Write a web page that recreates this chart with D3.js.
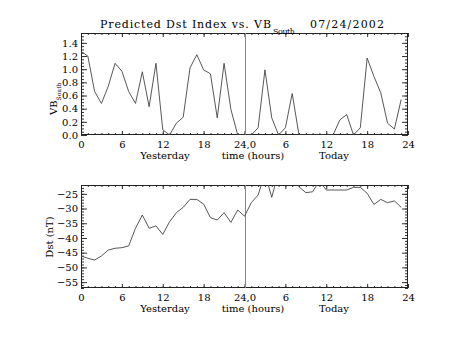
<!DOCTYPE html>
<html><head><meta charset="utf-8">
<script src="https://cdn.jsdelivr.net/npm/d3@7"></script>
<style>
html,body{margin:0;padding:0;background:#fff;}
svg{display:block;}
text{font-family:"DejaVu Serif",serif;fill:#000;}
</style></head>
<body>
<svg id="chart" width="453" height="340"></svg>
<script>
// ---- data (hourly, 0..47 : yesterday 0-23, today 24-47) ----
const hours = d3.range(48);
const vbSouth = [1.27,1.20,0.66,0.48,0.74,1.09,0.97,0.66,0.48,0.96,0.43,1.09,0.08,0.00,0.18,0.27,1.02,1.22,0.99,0.93,0.26,1.09,0.39,0.00,
                 0.00,0.00,0.11,0.99,0.26,0.00,0.11,0.63,0.00,0.00,0.00,0.00,0.00,0.00,0.23,0.31,0.00,0.11,1.17,0.89,0.64,0.18,0.09,0.54];
const dst = [-46.1,-46.9,-47.5,-46.1,-44.1,-43.5,-43.3,-42.7,-36.7,-32.2,-36.7,-35.9,-38.8,-34.5,-31.4,-29.6,-26.9,-26.9,-28.5,-33.1,-33.9,-31.4,-34.7,-30.5,
             -32.6,-28.0,-25.4,-18.0,-26.2,-17.5,-18.0,-19.0,-22.6,-24.6,-24.3,-20.6,-23.7,-23.7,-23.7,-23.7,-22.8,-22.8,-24.8,-28.6,-26.9,-28.0,-27.4,-29.6];
const xTickValues = [0,6,12,18,24,30,36,42,48];
const xTickLabels = ["0","6","12","18","24,0","6","12","18","24"];
const vbTicks = [0.0,0.2,0.4,0.6,0.8,1.0,1.2,1.4];
const dstTicks = [-55,-50,-45,-40,-35,-30,-25];
const title = "Predicted Dst Index vs. VB";
const titleSub = "South";
const dateText = "07/24/2002";

// ---- layout ----
const svg = d3.select("#chart");
const L = 81, R = 408;
const x = d3.scaleLinear().domain([0,48]).range([L,R]);

const panels = [
  {top:33, bottom:135, domain:[0,1.55], ticks:vbTicks, minorStep:0.05, fmt:d3.format(".1f"), data:vbSouth, id:"p1"},
  {top:185, bottom:288, domain:[-57,-22], ticks:dstTicks, minorStep:1, fmt:d3.format("d"), data:dst, id:"p2"}
];

panels.forEach(p => {
  const y = d3.scaleLinear().domain(p.domain).range([p.bottom, p.top]);
  const g = svg.append("g");
  svg.append("clipPath").attr("id","clip-"+p.id).append("rect")
    .attr("x",L).attr("y",p.top).attr("width",R-L).attr("height",p.bottom-p.top);

  const minorY = d3.range(Math.ceil(p.domain[0]/p.minorStep), Math.floor(p.domain[1]/p.minorStep)+1).map(k=>+(k*p.minorStep).toFixed(4));
  const minorX = d3.range(0,49);

  const style = sel => { sel.select(".domain").remove(); sel.selectAll("line").attr("stroke","#333").attr("stroke-width",1); sel.selectAll("text").remove(); };

  g.append("g").attr("transform",`translate(0,${p.bottom})`).call(d3.axisBottom(x).tickValues(minorX).tickSize(-2).tickSizeOuter(0)).call(style);
  g.append("g").attr("transform",`translate(0,${p.top})`).call(d3.axisTop(x).tickValues(minorX).tickSize(-2).tickSizeOuter(0)).call(style);
  g.append("g").attr("transform",`translate(0,${p.bottom})`).call(d3.axisBottom(x).tickValues(xTickValues).tickSize(-4).tickSizeOuter(0)).call(style);
  g.append("g").attr("transform",`translate(0,${p.top})`).call(d3.axisTop(x).tickValues(xTickValues).tickSize(-4).tickSizeOuter(0)).call(style);
  g.append("g").attr("transform",`translate(${L},0)`).call(d3.axisLeft(y).tickValues(minorY).tickSize(-3).tickSizeOuter(0)).call(style);
  g.append("g").attr("transform",`translate(${R},0)`).call(d3.axisRight(y).tickValues(minorY).tickSize(-3).tickSizeOuter(0)).call(style);
  g.append("g").attr("transform",`translate(${L},0)`).call(d3.axisLeft(y).tickValues(p.ticks).tickSize(-6).tickSizeOuter(0)).call(style);
  g.append("g").attr("transform",`translate(${R},0)`).call(d3.axisRight(y).tickValues(p.ticks).tickSize(-6).tickSizeOuter(0)).call(style);

  const yl = g.append("g").attr("transform",`translate(${L},0)`)
    .call(d3.axisLeft(y).tickValues(p.ticks).tickSize(0).tickPadding(3).tickFormat(p.fmt));
  yl.select(".domain").remove();
  yl.selectAll("text").attr("font-size","10px").attr("font-family","DejaVu Serif").text(d=>p.fmt(d).replace("-","\u2212"));

  const xl = g.append("g").attr("transform",`translate(0,${p.bottom})`)
    .call(d3.axisBottom(x).tickValues(xTickValues).tickSize(0).tickPadding(6).tickFormat((d,i)=>xTickLabels[i]));
  xl.select(".domain").remove();
  xl.selectAll("text").attr("font-size","10px").attr("font-family","DejaVu Serif");

  g.append("rect").attr("x",L+0.5).attr("y",p.top+0.5).attr("width",R-L-1).attr("height",p.bottom-p.top-1)
    .attr("fill","none").attr("stroke","#222").attr("stroke-width",1);

  g.append("line").attr("x1",Math.round(x(24))+0.5).attr("x2",Math.round(x(24))+0.5).attr("y1",p.top).attr("y2",p.bottom)
    .attr("stroke","#888").attr("stroke-width",1);

  const line = d3.line().x((d,i)=>x(hours[i])).y(d=>y(d));
  g.append("path").datum(p.data).attr("d",line).attr("fill","none").attr("stroke","#444").attr("stroke-width",0.9)
    .attr("clip-path",`url(#clip-${p.id})`);

  const lab = g.append("g").attr("font-size","10px");
  lab.append("text").attr("x",165).attr("y",p.bottom+24).attr("text-anchor","middle").text("Yesterday");
  lab.append("text").attr("x",253).attr("y",p.bottom+24).attr("text-anchor","middle").text("time (hours)");
  lab.append("text").attr("x",334).attr("y",p.bottom+24).attr("text-anchor","middle").text("Today");
});

const vb = svg.append("text").attr("transform","translate(57,115) rotate(-90)").attr("font-size","10px");
vb.append("tspan").text("VB");
vb.append("tspan").attr("font-size","6px").attr("dy",4).text("South");

svg.append("text").attr("transform","translate(53,237) rotate(-90)").attr("font-size","10px")
  .attr("text-anchor","middle").text("Dst (nT)");

const t = svg.append("text").attr("y",28).attr("font-size","11px");
t.append("tspan").attr("x",100).attr("textLength",171).attr("lengthAdjust","spacing").text(title);
t.append("tspan").attr("x",273).attr("font-size","8px").attr("dy",6).attr("textLength",22).attr("lengthAdjust","spacing").text(titleSub);
svg.append("text").attr("x",310).attr("y",28).attr("font-size","11px").attr("textLength",74).attr("lengthAdjust","spacing").text(dateText);
</script>
</body></html>
